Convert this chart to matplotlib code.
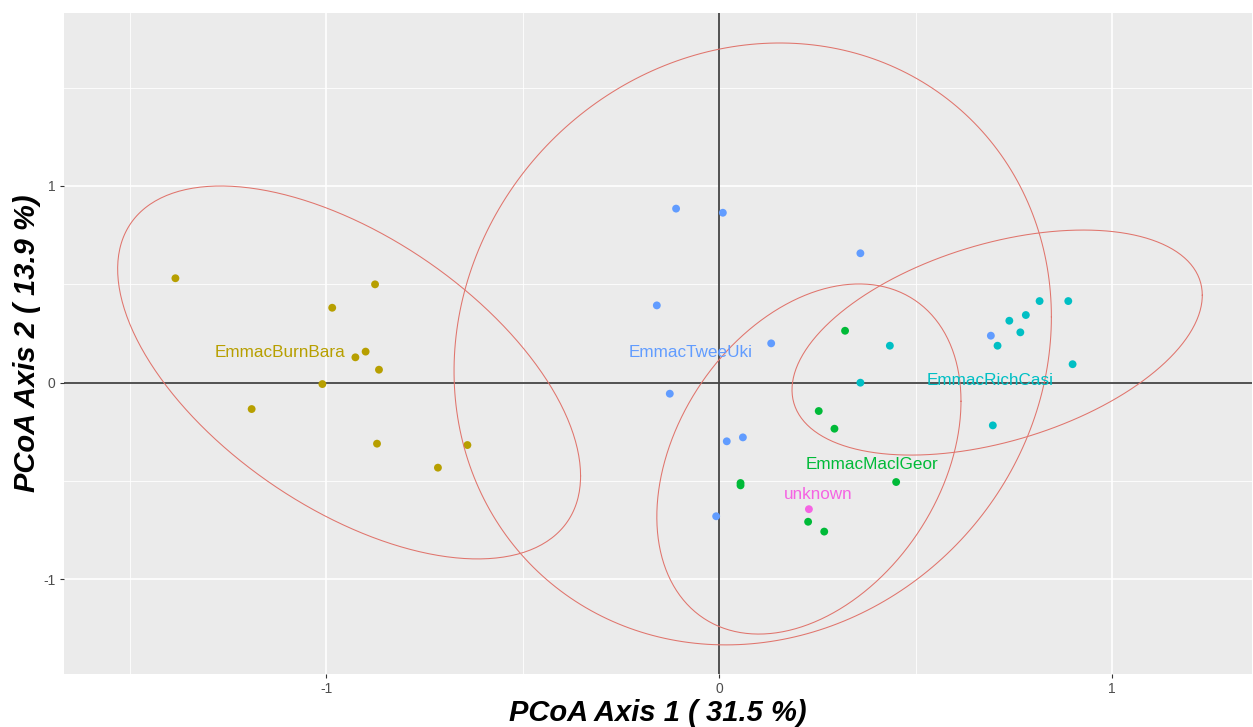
import numpy as np
import matplotlib.pyplot as plt

plt.rcParams['font.family'] = ['Liberation Sans', 'DejaVu Sans']

# group names and colours (ggplot hue palette)
groups = ['EmmacBurnBara', 'EmmacTweeUki', 'EmmacMaclGeor', 'EmmacRichCasi', 'unknown']
colours = ['#B79F00', '#619CFF', '#00BA38', '#00BFC4', '#F564E3']

# PCoA scores
burn_x = [-1.384, -0.985, -0.876, -0.900, -0.926, -0.866, -1.010, -1.190, -0.871, -0.716, -0.641]
burn_y = [0.531, 0.381, 0.500, 0.158, 0.129, 0.066, -0.007, -0.134, -0.310, -0.432, -0.317]

twee_x = [-0.110, 0.009, -0.159, 0.132, 0.359, 0.691, -0.126, 0.019, 0.060, -0.008]
twee_y = [0.885, 0.864, 0.393, 0.200, 0.658, 0.239, -0.056, -0.298, -0.278, -0.679]

macl_x = [0.320, 0.253, 0.293, 0.054, 0.054, 0.450, 0.226, 0.267]
macl_y = [0.264, -0.144, -0.234, -0.510, -0.522, -0.505, -0.707, -0.757]

rich_x = [0.815, 0.888, 0.738, 0.780, 0.766, 0.708, 0.434, 0.359, 0.696, 0.899]
rich_y = [0.415, 0.415, 0.315, 0.344, 0.256, 0.188, 0.188, 0.000, -0.217, 0.094]

unknown_x = [0.228]
unknown_y = [-0.643]

# where the group names sit
label_x = [-1.118, -0.073, 0.389, 0.690, 0.252]
label_y = [0.154, 0.154, -0.418, 0.010, -0.566]

# ellipses: centre, half extent in x and y, correlation
ell_cx = [-0.942, 0.085, 0.228, 0.707]
ell_cy = [0.052, 0.197, -0.388, 0.204]
ell_hx = [0.589, 0.760, 0.387, 0.522]
ell_hy = [0.948, 1.530, 0.890, 0.572]
ell_r = [-0.555, 0.09, 0.33, 0.42]

x_ticks = [-1, 0, 1]
y_ticks = [-1, 0, 1]


def draw_ellipse(ax, cx, cy, hx, hy, r):
    t = np.linspace(0, 2 * np.pi, 300)
    x = cx + hx * np.cos(t)
    y = cy + hy * (r * np.cos(t) + np.sqrt(1 - r ** 2) * np.sin(t))
    ax.plot(x, y, color='#E0746C', linewidth=0.75, zorder=3)


W, H = 1253, 727
fig = plt.figure(figsize=(W / 100, H / 100), dpi=100)
ax = fig.add_axes([64 / W, (H - 674) / H, (1252 - 64) / W, (674 - 13) / H])

ax.set_facecolor('#EBEBEB')
ax.set_xlim(-1.6675, 1.3555)
ax.set_ylim(-1.481, 1.8795)

# grid like theme_gray
for v in [-1.5, -0.5, 0.5]:
    ax.axvline(v, color='white', linewidth=0.6, zorder=0)
for v in [-0.5, 0.5, 1.5]:
    ax.axhline(v, color='white', linewidth=0.6, zorder=0)
for v in x_ticks:
    ax.axvline(v, color='white', linewidth=1.2, zorder=0)
for v in y_ticks:
    ax.axhline(v, color='white', linewidth=1.2, zorder=0)

# the zero lines
ax.axhline(0, color='#444444', linewidth=1.3, zorder=1)
ax.axvline(0, color='#444444', linewidth=1.3, zorder=1)

all_x = [burn_x, twee_x, macl_x, rich_x, unknown_x]
all_y = [burn_y, twee_y, macl_y, rich_y, unknown_y]
for xs, ys, c in zip(all_x, all_y, colours):
    ax.scatter(xs, ys, s=32, color=c, edgecolors='none', zorder=2)

for i in range(len(ell_cx)):
    draw_ellipse(ax, ell_cx[i], ell_cy[i], ell_hx[i], ell_hy[i], ell_r[i])

for name, lx, ly, c in zip(groups, label_x, label_y, colours):
    ax.text(lx, ly, name, color=c, fontsize=12.3, ha='center', va='center', zorder=4)

ax.set_xticks(x_ticks)
ax.set_yticks(y_ticks)
ax.set_xticklabels([str(v) for v in x_ticks])
ax.set_yticklabels([str(v) for v in y_ticks])
ax.tick_params(axis='both', length=3, width=0.8, color='#333333', labelcolor='#4D4D4D',
               labelsize=10, pad=3)
for s in ax.spines.values():
    s.set_visible(False)

fig.text(658 / W, (H - 721) / H, 'PCoA Axis 1 ( 31.5 %)', fontsize=21, fontweight='bold',
         fontstyle='italic', ha='center', va='baseline')
fig.text(35 / W, 1 - 343.5 / H, 'PCoA Axis 2 ( 13.9 %)', fontsize=21, fontweight='bold',
         fontstyle='italic', ha='center', va='baseline', rotation=90, rotation_mode='anchor')

fig.savefig('out.png', dpi=100, facecolor='white')
